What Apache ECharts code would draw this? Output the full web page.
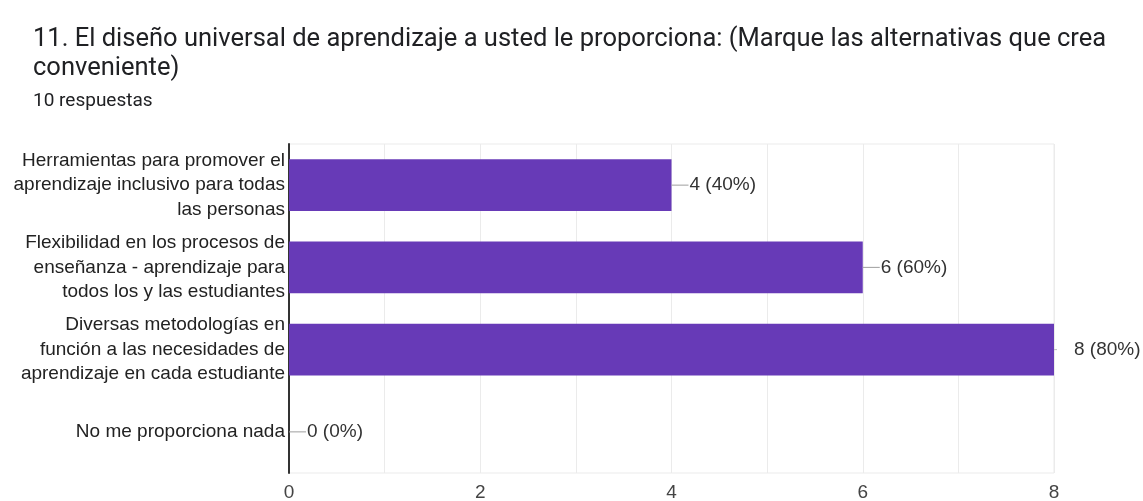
<html>
<head>
    <meta charset="utf-8">
    <title>Diseño universal</title>
    <script src="https://cdn.jsdelivr.net/npm/echarts@6/dist/echarts.min.js"></script>
    <style>
        html, body { margin: 0; padding: 0; background: #fff; }
        #main { width: 1143px; height: 501px; }
    </style>
</head>
<body>
<div id="main"></div>
<script type="text/javascript">
    // datos del gráfico
    var categorias = [
        'Herramientas para promover el\naprendizaje inclusivo para todas\nlas personas',
        'Flexibilidad en los procesos de\nenseñanza - aprendizaje para\ntodos los y las estudiantes',
        'Diversas metodologías en\nfunción a las necesidades de\naprendizaje en cada estudiante',
        'No me proporciona nada'
    ];
    var valores = [4, 6, 8, 0];
    var totalRespuestas = 10;
    var titulo = '11. El diseño universal de aprendizaje a usted le proporciona: (Marque las alternativas que crea\nconveniente)';
    var subtitulo = totalRespuestas + ' respuestas';
    var ejeMax = 8;

    var fuente = "'Liberation Sans', Arial, sans-serif";
    var myChart = echarts.init(document.getElementById('main'));

    var option = {
        animation: false,
        title: {
            text: titulo,
            subtext: subtitulo,
            left: 28,
            top: 20,
            itemGap: 9,
            textStyle: {
                fontFamily: 'Roboto',
                fontSize: 25.5,
                fontWeight: 'normal',
                color: '#202124',
                lineHeight: 29
            },
            subtextStyle: {
                fontFamily: 'Roboto',
                fontSize: 19,
                color: '#202124'
            }
        },
        grid: {
            left: 289,
            right: 89,
            top: 144,
            bottom: 28,
            outerBoundsMode: 'none',
            show: true,
            borderColor: '#ebebeb',
            borderWidth: 1
        },
        xAxis: {
            type: 'value',
            min: 0,
            max: ejeMax,
            interval: 1,
            axisLine: { show: false },
            axisTick: { show: false },
            splitLine: { lineStyle: { color: '#ebebeb', width: 1 } },
            axisLabel: {
                fontFamily: fuente,
                fontSize: 19,
                color: '#444',
                margin: 10,
                formatter: function (v) { return v % 2 === 0 ? String(v) : ''; }
            }
        },
        yAxis: {
            type: 'category',
            inverse: true,
            data: categorias,
            axisLine: { show: true, lineStyle: { color: '#333', width: 2 } },
            axisTick: { show: false },
            axisLabel: {
                fontFamily: fuente,
                fontSize: 19,
                color: '#222',
                lineHeight: 24.5,
                margin: 4,
                align: 'right'
            }
        },
        series: [{
            type: 'bar',
            data: valores,
            barWidth: '63%',
            itemStyle: { color: '#673ab7' },
            label: {
                show: true,
                position: 'right',
                distance: 0,
                formatter: function (p) {
                    var txt = p.value + ' (' + Math.round(p.value / totalRespuestas * 100) + '%)';
                    if (p.value === ejeMax) {
                        return '{c|}{s|}{t|' + txt + '}';
                    }
                    return '{l|}{t|' + txt + '}';
                },
                rich: {
                    l: { width: 17, height: 1, backgroundColor: '#9e9e9e', verticalAlign: 'middle' },
                    c: { width: 3, height: 1, backgroundColor: '#bdbdbd', verticalAlign: 'middle' },
                    s: { width: 16, height: 1 },
                    t: {
                        fontFamily: fuente,
                        fontSize: 19,
                        color: '#333',
                        padding: [0, 0, 0, 1],
                        verticalAlign: 'middle'
                    }
                }
            }
        }]
    };

    myChart.setOption(option);
</script>
</body>
</html>
